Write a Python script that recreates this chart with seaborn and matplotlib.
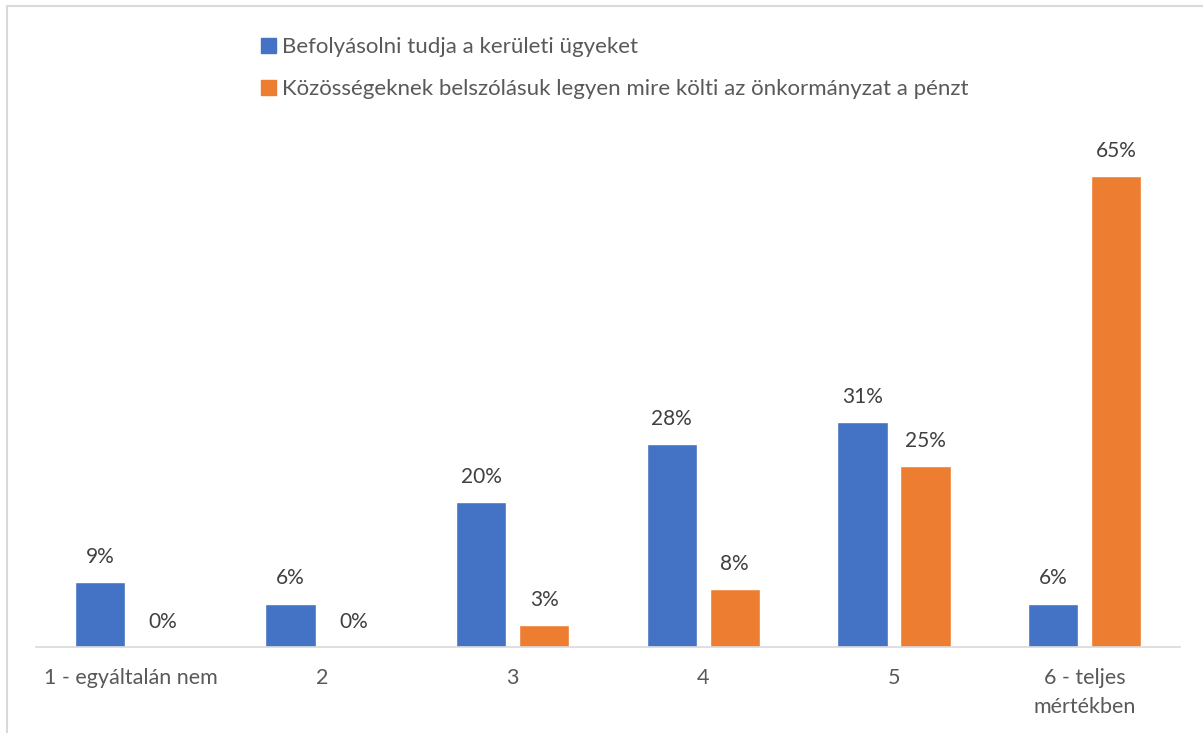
import matplotlib
matplotlib.use("Agg")
import matplotlib.pyplot as plt
import seaborn as sns
import pandas as pd
from matplotlib.lines import Line2D

categories = ["1 - egyáltalán nem", "2", "3", "4", "5", "6 - teljes\nmértékben"]
series_names = ["Befolyásolni tudja a kerületi ügyeket",
                "Közösségeknek belszólásuk legyen mire költi az önkormányzat a pénzt"]
blue_vals = [9, 6, 20, 28, 31, 6]
orange_vals = [0, 0, 3, 8, 25, 65]
colors = ["#4472C4", "#ED7D31"]

df = pd.DataFrame({
    "cat": categories * 2,
    "series": [series_names[0]] * 6 + [series_names[1]] * 6,
    "val": blue_vals + orange_vals,
})

sns.set_theme(style="white")
plt.rcParams["font.family"] = ["Lato", "DejaVu Sans"]

fig = plt.figure(figsize=(12.03, 7.33), dpi=100)
ax = fig.add_axes([36/1203, (733-647)/733, (1180-36)/1203, (647-139.8)/733])

sns.barplot(data=df, x="cat", y="val", hue="series", order=categories,
            hue_order=series_names, palette=colors, width=0.66, gap=0.2,
            saturation=1, ax=ax, legend=False, errorbar=None)

ax.set_ylim(0, 70)
ax.set_xlim(-0.5, 5.5)
for container, vals in zip(ax.containers, [blue_vals, orange_vals]):
    ax.bar_label(container, labels=[f"{v}%" for v in vals], padding=11,
                 fontsize=15, color="#404040")

ax.set_xlabel("")
ax.set_ylabel("")
ax.set_yticks([])
for s in ["top", "right", "left"]:
    ax.spines[s].set_visible(False)
ax.spines["bottom"].set_color("#D9D9D9")
ax.spines["bottom"].set_linewidth(1.2)
ax.tick_params(axis="x", length=0, pad=15, labelsize=15.5, labelcolor="#595959")
for lbl in ax.get_xticklabels():
    lbl.set_linespacing(1.55)

handles = [plt.Rectangle((0, 0), 1, 1, color=c) for c in colors]
fig.legend(handles, series_names, loc="upper left",
           bbox_to_anchor=(250/1203, 1 - 26/733), frameon=False,
           handlelength=0.65, handleheight=0.65, handletextpad=0.3,
           labelspacing=1.0, fontsize=16, labelcolor="#595959", borderpad=0)

fig.add_artist(Line2D([6.5/1203, 1], [1 - 5.5/733, 1 - 5.5/733],
                      transform=fig.transFigure, color="#D9D9D9", lw=1.5))
fig.add_artist(Line2D([6.5/1203, 6.5/1203], [0, 1 - 5.5/733],
                      transform=fig.transFigure, color="#D9D9D9", lw=1.5))

fig.savefig("out.png", dpi=100, facecolor="white")
